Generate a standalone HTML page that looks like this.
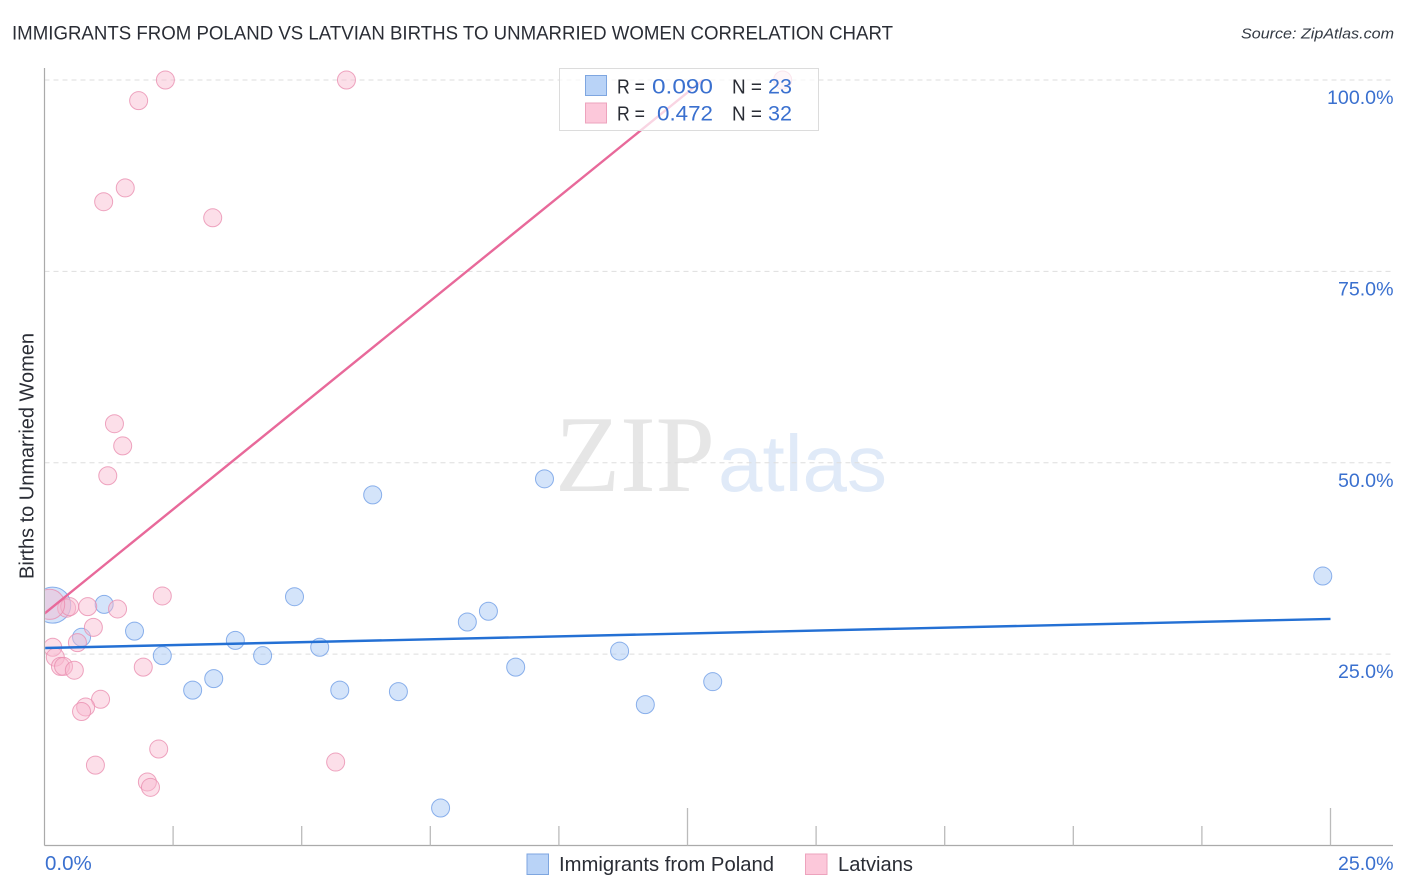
<!DOCTYPE html>
<html lang="en">
<head>
<meta charset="utf-8">
<title>Immigrants from Poland vs Latvian Births to Unmarried Women Correlation Chart</title>
<style>
html,body{margin:0;padding:0;background:#fff;width:1406px;height:892px;overflow:hidden}
svg{display:block;font-family:"Liberation Sans",sans-serif}
</style>
</head>
<body>
<svg id="chart" width="1406" height="892" viewBox="0 0 1406 892" xmlns="http://www.w3.org/2000/svg">
  <defs>
    <clipPath id="plot-clip"><rect x="45.2" y="60" width="1350" height="785.5"/></clipPath>
  </defs>
  <rect x="0" y="0" width="1406" height="892" fill="#ffffff"/>
  <text x="12" y="39.5" font-size="19.5" fill="#2a2d35" textLength="881" lengthAdjust="spacingAndGlyphs">IMMIGRANTS FROM POLAND VS LATVIAN BIRTHS TO UNMARRIED WOMEN CORRELATION CHART</text>
  <text x="1241" y="38.5" font-size="15" font-style="italic" fill="#333a44" textLength="153" lengthAdjust="spacingAndGlyphs">Source: ZipAtlas.com</text>
  <g>
    <text x="555" y="491" font-size="109" fill="#e6e6e6" font-family="'Liberation Serif',serif" textLength="160" lengthAdjust="spacingAndGlyphs">ZIP</text>
    <text x="718" y="491" font-size="80" fill="#e0eaf8" textLength="169" lengthAdjust="spacingAndGlyphs">atlas</text>
  </g>
  <g id="grid"></g>
  <g id="axes"></g>
  <g id="series" clip-path="url(#plot-clip)"></g>
  <text transform="translate(33.5,579) rotate(-90)" font-size="20" fill="#2a2d35" textLength="246" lengthAdjust="spacingAndGlyphs">Births to Unmarried Women</text>
  <g>
    <rect x="559.5" y="68.5" width="259" height="62" fill="#ffffff" fill-opacity="0.72" stroke="#dcdcdc" stroke-width="1"/>
    <rect x="585.5" y="75.5" width="21" height="20" fill="#b9d3f7" stroke="#7ea6e0" stroke-width="1"/>
    <rect x="585.5" y="103" width="21" height="20" fill="#fcc8da" stroke="#eda3bd" stroke-width="1"/>
    <text x="617" y="93.5" font-size="20" fill="#2a2d35" textLength="28" lengthAdjust="spacingAndGlyphs">R =</text>
    <text x="652" y="93.5" font-size="21.5" fill="#3a70cf" textLength="61" lengthAdjust="spacingAndGlyphs">0.090</text>
    <text x="732" y="93.5" font-size="20" fill="#2a2d35" textLength="30" lengthAdjust="spacingAndGlyphs">N =</text>
    <text x="768" y="93.5" font-size="21.5" fill="#3a70cf" textLength="24" lengthAdjust="spacingAndGlyphs">23</text>
    <text x="617" y="120.5" font-size="20" fill="#2a2d35" textLength="28" lengthAdjust="spacingAndGlyphs">R =</text>
    <text x="657" y="120.5" font-size="21.5" fill="#3a70cf" textLength="56" lengthAdjust="spacingAndGlyphs">0.472</text>
    <text x="732" y="120.5" font-size="20" fill="#2a2d35" textLength="30" lengthAdjust="spacingAndGlyphs">N =</text>
    <text x="768" y="120.5" font-size="21.5" fill="#3a70cf" textLength="24" lengthAdjust="spacingAndGlyphs">32</text>
  </g>
  <g>
    <rect x="527" y="854" width="21.5" height="20.5" fill="#b9d3f7" stroke="#7ea6e0" stroke-width="1"/>
    <text x="559" y="871" font-size="20" fill="#2a2d35" textLength="215" lengthAdjust="spacingAndGlyphs">Immigrants from Poland</text>
    <rect x="805.5" y="854" width="21.5" height="20.5" fill="#fcc8da" stroke="#eda3bd" stroke-width="1"/>
    <text x="838" y="871" font-size="20" fill="#2a2d35" textLength="75" lengthAdjust="spacingAndGlyphs">Latvians</text>
  </g>
</svg>
<script>
const yTickValues = [100, 75, 50, 25];
const yTickLabels = ["100.0%", "75.0%", "50.0%", "25.0%"];
const xTickValues = [2.5, 5, 7.5, 10, 12.5, 15, 17.5, 20, 22.5, 25];
const xTallTicks = [12.5, 25];
const xEndLabels = ["0.0%", "25.0%"];

const polandX = [0.16, 1.16, 0.72, 1.75, 2.29, 2.88, 3.29, 3.71, 4.24, 4.86, 5.35, 5.74, 6.88, 6.38, 7.70, 8.22, 8.63, 9.16, 9.72, 11.18, 11.68, 12.99, 24.85];
const polandY = [31.4, 31.5, 27.2, 28.0, 24.8, 20.3, 21.8, 26.8, 24.8, 32.5, 25.9, 20.3, 20.1, 45.8, 4.9, 29.2, 30.6, 23.3, 47.9, 25.4, 18.4, 21.4, 35.2];
const polandWeight = [4, 1, 1, 1, 1, 1, 1, 1, 1, 1, 1, 1, 1, 1, 1, 1, 1, 1, 1, 1, 1, 1, 1];

const latviansX = [2.35, 5.87, 14.35, 1.83, 1.57, 1.15, 3.27, 1.36, 1.52, 1.23, 2.29, 0.43, 0.49, 0.84, 1.42, 0.10, 0.95, 0.64, 0.16, 0.21, 0.31, 0.37, 0.58, 1.92, 1.09, 0.80, 0.72, 2.22, 0.99, 5.66, 2.00, 2.06];
const latviansY = [100, 100, 100, 97.3, 85.9, 84.1, 82.0, 55.1, 52.2, 48.3, 32.6, 31.0, 31.2, 31.2, 30.9, 31.5, 28.5, 26.5, 25.9, 24.6, 23.4, 23.4, 22.9, 23.3, 19.1, 18.1, 17.5, 12.6, 10.5, 10.9, 8.3, 7.6];
const latviansWeight = [1, 1, 1, 1, 1, 1, 1, 1, 1, 1, 1, 1, 1, 1, 1, 2.8, 1, 1, 1, 1, 1, 1, 1, 1, 1, 1, 1, 1, 1, 1, 1, 1];

const polandTrendX = [0, 25];
const polandTrendY = [25.8, 29.6];
const latviansTrendX = [0, 12.8];
const latviansTrendY = [30.3, 100];

const SVG_NS = "http://www.w3.org/2000/svg";
const plotLeft = 44.5, plotRight = 1393, plotTop = 68, plotBottom = 845.5;
function xScale(v) { return 44.5 + v * 51.44; }
function yScale(v) { return 845.5 - v * 7.655; }
function rScale(w) { return 9 * Math.sqrt(w); }
function make(tag, attrs) {
  const el = document.createElementNS(SVG_NS, tag);
  for (const k in attrs) el.setAttribute(k, attrs[k]);
  return el;
}

const grid = document.getElementById("grid");
const axes = document.getElementById("axes");
const series = document.getElementById("series");

yTickValues.forEach(function (v, i) {
  const y = yScale(v);
  const line = make("line", { x1: plotLeft, x2: plotRight, y1: y, y2: y, stroke: "#dedede", "stroke-width": 1, "stroke-dasharray": "5 4" });
  
  
  grid.appendChild(line);
  const label = make("text", { x: 1393.5, y: y + 24, "text-anchor": "end", "font-size": 19.6, fill: "#3a70cf" });
  label.textContent = yTickLabels[i];
  
  
  axes.appendChild(label);
});

const yAxis = make("line", { x1: plotLeft, x2: plotLeft, y1: plotTop, y2: plotBottom, stroke: "#aaaaaa", "stroke-width": 1.2 });


axes.appendChild(yAxis);

const xAxis = make("line", { x1: plotLeft, x2: plotRight, y1: plotBottom, y2: plotBottom, stroke: "#aaaaaa", "stroke-width": 1.2 });


axes.appendChild(xAxis);

xTickValues.forEach(function (v) {
  const tall = xTallTicks.indexOf(v) >= 0;
  const tick = make("line", { x1: xScale(v), x2: xScale(v), y1: tall ? 808 : 826, y2: plotBottom, stroke: "#bbbbbb", "stroke-width": 1.3 });
  
  
  axes.appendChild(tick);
});

const xLabelStart = make("text", { x: 45, y: 870, "font-size": 20.5, fill: "#3a70cf" });
xLabelStart.textContent = xEndLabels[0];


axes.appendChild(xLabelStart);

const xLabelEnd = make("text", { x: 1393.5, y: 870, "text-anchor": "end", "font-size": 19.6, fill: "#3a70cf" });
xLabelEnd.textContent = xEndLabels[1];


axes.appendChild(xLabelEnd);

polandX.forEach(function (v, i) {
  const dot = make("circle", { cx: xScale(v), cy: yScale(polandY[i]), r: rScale(polandWeight[i]), fill: "#a9c9f5", "fill-opacity": 0.5, stroke: "#6f9ee6", "stroke-opacity": 0.8, "stroke-width": 1 });
  
  
  series.appendChild(dot);
});

latviansX.forEach(function (v, i) {
  const dot = make("circle", { cx: xScale(v), cy: yScale(latviansY[i]), r: rScale(latviansWeight[i]), fill: "#f9b9cf", "fill-opacity": 0.45, stroke: "#ea8fb0", "stroke-opacity": 0.8, "stroke-width": 1 });
  
  
  series.appendChild(dot);
});

const polandTrend = make("line", { x1: xScale(polandTrendX[0]), y1: yScale(polandTrendY[0]), x2: xScale(polandTrendX[1]), y2: yScale(polandTrendY[1]), stroke: "#2470d4", "stroke-width": 2.4 });


series.appendChild(polandTrend);

const latviansTrend = make("line", { x1: xScale(latviansTrendX[0]), y1: yScale(latviansTrendY[0]), x2: xScale(latviansTrendX[1]), y2: yScale(latviansTrendY[1]), stroke: "#e8699a", "stroke-width": 2.4 });


series.appendChild(latviansTrend);
</script>
</body>
</html>
